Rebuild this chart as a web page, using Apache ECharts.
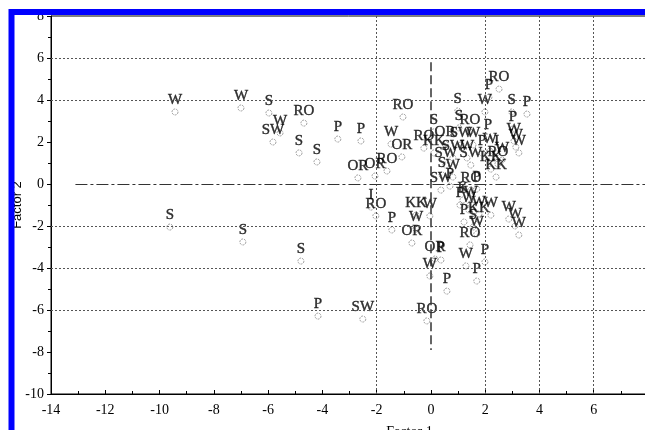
<!DOCTYPE html>
<html>
<head>
<meta charset="utf-8">
<script src="https://cdn.jsdelivr.net/npm/echarts@6/dist/echarts.min.js"></script>
<style>
html,body{margin:0;padding:0;background:#fff;}
#chart{width:645px;height:430px;}
</style>
</head>
<body>
<div id="chart"></div>
<script>
// ---- data (Factor 1, Factor 2 scores with group labels) ----
var pointLabels = ["W","W","S","W","SW","RO","S","S","P","P",
  "OR","OR","RO","W","OR","RO","RO","I","RO","KK",
  "W","P","W","OR","OR","P","W","P","RO","SW",
  "RO","W","P","P","S","S","S","P",
  "RO","P","W","S","P","P","W","W","W","S",
  "S","RO","P","S",
  "OR","SW","W","KK","SW","W","P","W","I","W",
  "SW","SW","KK","RO","S","W","KK","SW","P","RO",
  "P","K","W","P","W","W","W","P","KK","S",
  "W","W","W","W"];
var factor1 = [-9.43,-7.00,-5.97,-5.56,-5.82,-4.68,-4.86,-4.20,-3.43,-2.58,
  -2.69,-2.06,-1.62,-1.47,-1.07,-1.03,-0.26,-2.21,-2.03,-0.55,
  -0.04,-1.44,-0.55,-0.70,0.15,0.37,-0.04,0.59,-0.15,-2.51,
  1.44,1.29,1.99,1.69,-9.62,-6.93,-4.79,-4.16,
  2.51,2.14,1.99,2.98,3.54,3.02,3.06,3.13,3.24,0.99,
  1.03,1.44,2.10,0.11,
  0.52,1.11,1.55,0.11,0.81,1.33,1.88,2.17,2.43,2.62,
  0.55,1.47,2.21,2.47,0.41,0.81,2.40,0.37,0.70,1.47,
  1.69,1.18,1.47,1.07,1.40,1.77,2.21,1.22,1.77,1.55,
  1.69,2.87,3.10,3.24];
var factor2 = [3.43,3.62,3.38,2.43,2.00,2.90,1.48,1.05,2.14,2.05,
  0.29,0.38,0.62,1.90,1.29,3.19,1.71,-1.10,-1.52,-1.48,
  -1.52,-2.19,-2.14,-2.81,-3.57,-3.62,-4.38,-5.10,-6.52,-6.43,
  -2.90,-3.90,-3.71,-4.62,-2.05,-2.76,-3.67,-6.29,
  4.52,4.14,3.43,3.43,3.33,2.62,2.05,1.76,1.48,3.48,
  2.67,2.48,2.24,2.48,
  1.90,1.86,1.86,1.48,1.24,1.24,1.48,1.57,1.48,1.14,
  0.90,0.90,0.71,0.95,0.43,0.33,0.33,-0.29,-0.10,-0.29,
  -0.24,-0.76,-0.95,-1.00,-1.24,-1.43,-1.48,-1.81,-1.71,-2.05,
  -2.38,-1.67,-2.00,-2.43];
var xTicks = {min:-14, max:8, step:2};
var yTicks = {min:-10, max:8, step:2};
var hGridValues = [6,4,-2,-4,-6];
var vGridValues = [-2,2,4,6];

var pts = factor1.map(function(x,i){ return {name: pointLabels[i], value:[x, factor2[i]]}; });

var serif = "'Liberation Serif','DejaVu Serif',serif";
var gridLine = {color:'#555', width:1, type:[2,2]};
var markData = [];
hGridValues.forEach(function(v){ markData.push({yAxis:v, lineStyle:gridLine}); });
vGridValues.forEach(function(v){ markData.push({xAxis:v, lineStyle:gridLine}); });
markData.push([{coord:[0,5.8], lineStyle:{color:'#333', width:1.5, type:[9,4]}},{coord:[0,-7.9]}]);
markData.push([{coord:[-13.1,0], lineStyle:{color:'#333', width:1, type:[12,3,3,3]}},{coord:[8,0]}]);

var chart = echarts.init(document.getElementById('chart'), null, {renderer:'canvas'});
chart.setOption({
  animation:false,
  backgroundColor:'#fff',
  grid:{left:51, right:-3, top:16, bottom:36, show:true, borderColor:'#000', borderWidth:1,
    backgroundColor:'transparent', containLabel:false, outerBoundsMode:'none'},
  xAxis:{type:'value', min:xTicks.min, max:xTicks.max, interval:xTicks.step,
    name:'Factor 1', nameLocation:'middle', nameGap:31, nameMoveOverlap:false,
    nameTextStyle:{fontFamily:serif, fontSize:14, color:'#000', padding:[0,0,0,120]},
    axisLine:{show:true, onZero:false, lineStyle:{color:'#000'}},
    axisTick:{show:true, inside:true, length:4, lineStyle:{color:'#000'}},
    minorTick:{show:true, splitNumber:2, length:3, lineStyle:{color:'#000'}},
    splitLine:{show:false},
    axisLabel:{fontFamily:serif, fontSize:14, color:'#000', margin:9, showMaxLabel:false}},
  yAxis:{type:'value', min:yTicks.min, max:yTicks.max, interval:yTicks.step,
    name:'Factor 2', nameLocation:'middle', nameGap:27, nameMoveOverlap:false,
    nameTextStyle:{fontFamily:"'Liberation Sans','DejaVu Sans',sans-serif", fontSize:13, color:'#000'},
    axisLine:{show:true, onZero:false, lineStyle:{color:'#000'}},
    axisTick:{show:true, inside:false, length:4, lineStyle:{color:'#000'}},
    minorTick:{show:true, splitNumber:2, length:3, lineStyle:{color:'#000'}},
    splitLine:{show:false},
    axisLabel:{fontFamily:serif, fontSize:14, color:'#000', margin:7}},
  series:[{
    type:'scatter',
    data:pts,
    symbol:'circle',
    symbolSize:6,
    itemStyle:{color:'rgba(0,0,0,0)', borderColor:'#8a8a8a', borderWidth:1, borderType:[2,1]},
    label:{show:true, position:'top', distance:1, formatter:'{b}',
      fontFamily:serif, fontSize:15, color:'#000', textBorderColor:'#000', textBorderWidth:0.4},
    labelLayout:{hideOverlap:false},
    markLine:{silent:true, symbol:['none','none'], label:{show:false}, animation:false, data:markData},
    z:3
  }],
  graphic:[{
    type:'rect', z:100, silent:true,
    shape:{x:11.5, y:12, width:1000, height:1000},
    style:{fill:'none', stroke:'#0000ff', lineWidth:6}
  }]
});
</script>
</body>
</html>
